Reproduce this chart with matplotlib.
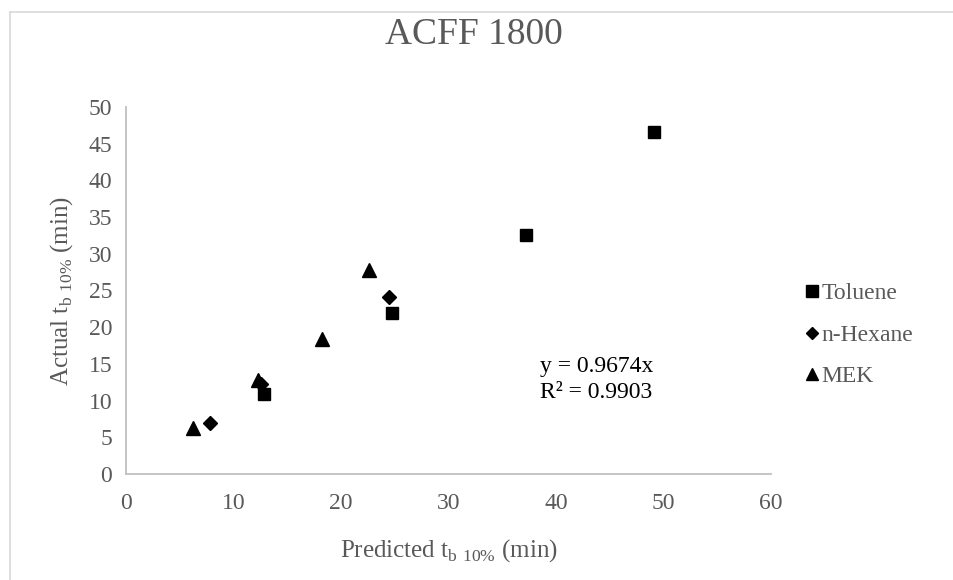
import matplotlib
matplotlib.use("Agg")
import matplotlib.pyplot as plt
from matplotlib.lines import Line2D

TEXT_COLOR = "#595959"
AXIS_COLOR = "#BFBFBF"

plt.rcParams["font.family"] = ["Liberation Serif", "DejaVu Serif"]
plt.rcParams["mathtext.fontset"] = "custom"
plt.rcParams["mathtext.rm"] = "Liberation Serif"

# Predicted vs actual breakthrough time (min)
toluene_pred = [12.8, 24.7, 37.2, 49.1]
toluene_act = [10.9, 21.9, 32.6, 46.6]
hexane_pred = [7.8, 12.6, 24.5]
hexane_act = [6.9, 12.3, 24.1]
mek_pred = [6.2, 12.3, 18.2, 22.6]
mek_act = [6.2, 12.8, 18.4, 27.8]

slope = 0.9674
r_squared = 0.9903

fig = plt.figure(figsize=(9.54, 5.80), dpi=100)
ax = fig.add_axes([126 / 954, 1 - 474 / 580, (771 - 126) / 954, (474 - 107) / 580])

# Chart-area frame (only top and left edges fall inside the image)
frame_x, frame_y = 10 / 954, 1 - 11.5 / 580
fig.add_artist(Line2D([frame_x, 1.0], [frame_y, frame_y], transform=fig.transFigure,
                      color="#D9D9D9", linewidth=1.2))
fig.add_artist(Line2D([frame_x, frame_x], [0.0, frame_y], transform=fig.transFigure,
                      color="#D9D9D9", linewidth=1.2))

ax.plot(toluene_pred, toluene_act, "s", color="black", markersize=8.5, linestyle="none")
ax.plot(hexane_pred, hexane_act, "D", color="black", markersize=7, linestyle="none")
ax.plot(mek_pred, mek_act, "^", color="black", markersize=10, linestyle="none")

ax.set_xlim(0, 60)
ax.set_ylim(0, 50)
ax.set_xticks(range(0, 61, 10))
ax.set_yticks(range(0, 51, 5))
for side in ("top", "right"):
    ax.spines[side].set_visible(False)
for side in ("left", "bottom"):
    ax.spines[side].set_color(AXIS_COLOR)
    ax.spines[side].set_linewidth(1.3)
ax.tick_params(length=0, labelsize=17, labelcolor=TEXT_COLOR)
ax.tick_params(axis="x", pad=14)
ax.tick_params(axis="y", pad=10)

ax.set_xlabel(r"Predicted t$_\mathregular{b\ 10\%}$ (min)", fontsize=18,
              color=TEXT_COLOR, labelpad=16)
ax.set_ylabel(r"Actual t$_\mathregular{b\ 10\%}$ (min)", fontsize=18,
              color=TEXT_COLOR, labelpad=10)
fig.text(474 / 954, 1 - 35 / 580, "ACFF 1800", fontsize=27, color=TEXT_COLOR,
         ha="center", va="center")

ax.text(38.5, 12.9, f"y = {slope}x\nR² = {r_squared}", fontsize=17,
        color="black", ha="left", va="center", linespacing=1.3)

handles = [
    Line2D([], [], marker="s", color="black", linestyle="none", markersize=8),
    Line2D([], [], marker="D", color="black", linestyle="none", markersize=6.5),
    Line2D([], [], marker="^", color="black", linestyle="none", markersize=9),
]
leg = fig.legend(handles, ["Toluene", "n-Hexane", "MEK"], loc="center left",
                 bbox_to_anchor=(797 / 954, 1 - 335 / 580), frameon=False,
                 fontsize=17, handlelength=0.5, handletextpad=0.15, labelspacing=0.85,
                 borderaxespad=0)
for t in leg.get_texts():
    t.set_color(TEXT_COLOR)

fig.savefig("out.png", dpi=100)
